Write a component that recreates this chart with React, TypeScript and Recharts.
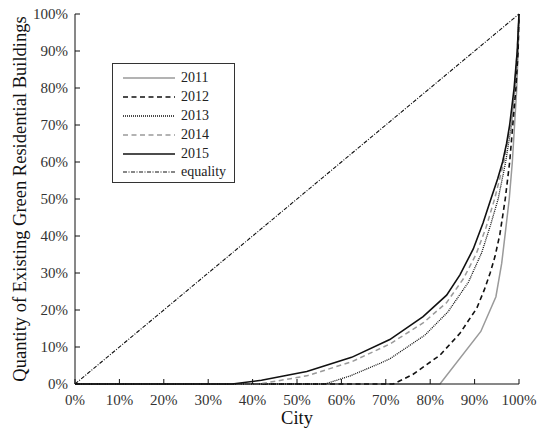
import React from 'react';
import { LineChart, Line, XAxis, YAxis, Legend, Label } from 'recharts';

const pctTicks = [0, 10, 20, 30, 40, 50, 60, 70, 80, 90, 100];

const x2011 = [0, 82.2, 91.4, 94.8, 96.1, 96.9, 97.8, 98.5, 99.0, 99.5, 99.8, 100];
const y2011 = [0, 0, 14.2, 23.6, 32.6, 40.7, 50, 60, 70, 80, 90, 100];

const x2012 = [0, 71.7, 76, 82.2, 86.7, 90.5, 92.2, 93.5, 94.6, 95.7, 96.9, 97.9, 98.6, 99.3, 99.8, 100];
const y2012 = [0, 0, 2.5, 7.8, 13.7, 20.5, 25.5, 30, 34.5, 40.5, 50, 60, 70, 80, 90, 100];

const x2013 = [0, 56.3, 62, 68.7, 70.9, 78.8, 84, 88.6, 91.6, 93.6, 95.3, 97.0, 98.3, 99.1, 99.7, 100];
const y2013 = [0, 0, 2.2, 5.6, 6.8, 13.2, 19.5, 27.5, 35.5, 43, 50, 60, 70, 80, 90, 100];

const x2014 = [0, 41.5, 52.2, 62.3, 70.9, 78.4, 83.7, 87.5, 90.3, 92.5, 94.5, 96.6, 98.1, 99.0, 99.6, 100];
const y2014 = [0, 0, 2.2, 6, 10.8, 16.5, 22, 28.5, 35, 42, 50, 60, 70, 80, 90, 100];

const x2015 = [0, 35.4, 42, 48.4, 52.2, 62.3, 70.9, 78.4, 83.7, 86.7, 89.7, 91.9, 93.8, 95.2, 96.3, 97.2, 97.9, 98.9, 99.6, 100];
const y2015 = [0, 0, 1, 2.5, 3.4, 7.2, 12, 18.2, 24, 29.5, 36.5, 43.5, 50.5, 55.5, 60, 65, 70, 80, 90, 100];

const xEq = [0, 100];
const yEq = [0, 100];

const toPts = (xs: number[], ys: number[]) => xs.map((x, i) => ({ x, y: ys[i] }));

const series = [
  { name: '2011', data: toPts(x2011, y2011), stroke: '#9a9a9a', dash: undefined as string | undefined, w: 1.5 },
  { name: '2012', data: toPts(x2012, y2012), stroke: '#111', dash: '5 3.5', w: 1.6 },
  { name: '2013', data: toPts(x2013, y2013), stroke: '#111', dash: '1 1', w: 1.3 },
  { name: '2014', data: toPts(x2014, y2014), stroke: '#9a9a9a', dash: '5 3.5', w: 1.5 },
  { name: '2015', data: toPts(x2015, y2015), stroke: '#111', dash: undefined as string | undefined, w: 1.6 },
  { name: 'equality', data: toPts(xEq, yEq), stroke: '#111', dash: '4 1.5 1 1.5', w: 1.1 },
];

const FONT = '"Liberation Serif", "Times New Roman", serif';

const LegendBox = () => (
  <div
    style={{
      width: 123,
      height: 120,
      boxSizing: 'border-box',
      border: '1px solid #333',
      background: '#fff',
      paddingTop: 5,
      fontFamily: FONT,
    }}
  >
    {series.map((s) => (
      <div key={s.name} style={{ display: 'flex', alignItems: 'center', height: 18.8 }}>
        <svg width={62} height={10} style={{ marginLeft: 10 }}>
          <line x1={0} y1={5} x2={52} y2={5} stroke={s.stroke} strokeWidth={s.w} strokeDasharray={s.dash} />
        </svg>
        <span style={{ fontSize: 14, color: '#222', marginLeft: -4, lineHeight: '14px', fontFamily: FONT }}>{s.name}</span>
      </div>
    ))}
  </div>
);

const fmt = (v: number) => `${v}%`;
const tickStyle = { fill: '#333', fontSize: 15, fontFamily: FONT, style: { fontFamily: FONT } };

export default function App() {
  return (
    <div style={{ position: 'absolute', left: 0, top: 0, fontFamily: FONT }}>
      <LineChart
        width={538}
        height={428}
        margin={{ top: 14, right: 19, bottom: 0, left: 0 }}
        style={{ fontFamily: FONT, background: '#fff' }}
      >
        <XAxis
          xAxisId="b"
          type="number"
          dataKey="x"
          domain={[0, 100]}
          ticks={pctTicks}
          tickFormatter={fmt}
          height={44}
          tickSize={-5}
          tickMargin={15}
          stroke="#111"
          tick={tickStyle}
          allowDuplicatedCategory={false}
        >
          <Label value="City" position="insideBottom" offset={4} style={{ fontSize: 18.5, fill: '#111', fontFamily: FONT }} />
        </XAxis>
        <XAxis
          xAxisId="t"
          orientation="top"
          type="number"
          dataKey="x"
          domain={[0, 100]}
          ticks={pctTicks}
          height={0}
          tickSize={-5}
          tick={false}
          stroke="#111"
        />
        <YAxis
          yAxisId="l"
          type="number"
          domain={[0, 100]}
          ticks={pctTicks}
          tickFormatter={fmt}
          width={75}
          tickSize={-5}
          tickMargin={12}
          stroke="#111"
          tick={tickStyle}
        >
          <Label
            value="Quantity of Existing Green Residential Buildings"
            angle={-90}
            position="insideLeft"
            offset={19}
            style={{ fontSize: 18.5, fill: '#111', fontFamily: FONT, textAnchor: 'middle' }}
          />
        </YAxis>
        <YAxis
          yAxisId="r"
          orientation="right"
          type="number"
          domain={[0, 100]}
          ticks={pctTicks}
          width={0}
          tickSize={-5}
          tick={false}
          stroke="#111"
        />
        {series.map((s) => (
          <Line
            key={s.name}
            xAxisId="b"
            yAxisId="l"
            data={s.data}
            dataKey="y"
            name={s.name}
            type="linear"
            stroke={s.stroke}
            strokeWidth={s.w}
            strokeDasharray={s.dash}
            dot={false}
            activeDot={false}
            isAnimationActive={false}
          />
        ))}
        <Legend
          layout="vertical"
          align="center"
          verticalAlign="middle"
          content={() => <LegendBox />}
          wrapperStyle={{ left: 112, top: 63, width: 123, height: 120 }}
        />
      </LineChart>
    </div>
  );
}
